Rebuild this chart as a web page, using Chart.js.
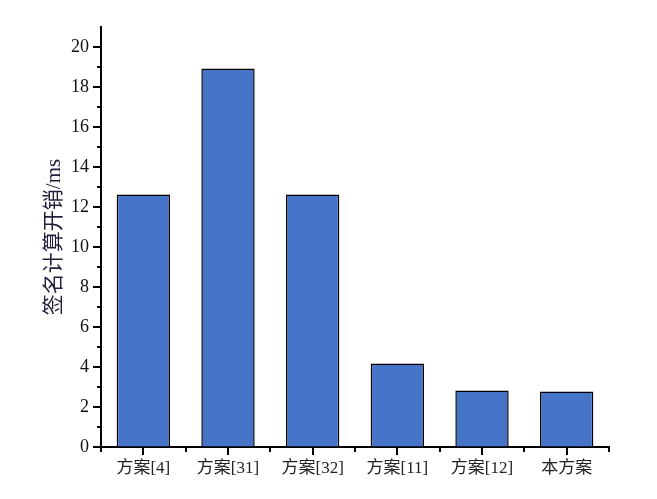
<!DOCTYPE html>
<html>
<head>
<meta charset="utf-8">
<script src="https://cdn.jsdelivr.net/npm/chart.js@4"></script>
<style>
    html, body { margin: 0; padding: 0; background: #fff; }
    #wrap { width: 657px; height: 499px; }
</style>
</head>
<body>
<div id="wrap"><canvas id="barChart" width="657" height="499"></canvas></div>
<script>
// Chart data
const categories = ['方案[4]', '方案[31]', '方案[32]', '方案[11]', '方案[12]', '本方案'];
const signCost = [12.63, 18.93, 12.63, 4.18, 2.83, 2.78];
const yTicks = [0, 2, 4, 6, 8, 10, 12, 14, 16, 18, 20];
const yMinorTicks = [1, 3, 5, 7, 9, 11, 13, 15, 17, 19];

const serif = '"Liberation Serif", "Noto Sans CJK SC", serif';

// Origin-style tick marks: long ticks on values, short ones in between
const tickMarks = {
    id: 'tickMarks',
    afterDraw(chart) {
        const ctx = chart.ctx;
        const xs = chart.scales.x;
        const ys = chart.scales.y;
        const area = chart.chartArea;
        ctx.save();
        ctx.strokeStyle = '#000';
        ctx.lineWidth = 2;
        ctx.beginPath();
        yTicks.forEach(v => {
            const y = Math.round(ys.getPixelForValue(v));
            ctx.moveTo(area.left - 8, y);
            ctx.lineTo(area.left, y);
        });
        yMinorTicks.forEach(v => {
            const y = Math.round(ys.getPixelForValue(v));
            ctx.moveTo(area.left - 4, y);
            ctx.lineTo(area.left, y);
        });
        categories.forEach((c, i) => {
            const x = Math.round(xs.getPixelForValue(i));
            ctx.moveTo(x, area.bottom);
            ctx.lineTo(x, area.bottom + 8);
        });
        for (let i = 0; i <= categories.length; i++) {
            const x = Math.round(xs.getPixelForValue(i - 0.5));
            ctx.moveTo(x, area.bottom);
            ctx.lineTo(x, area.bottom + 5);
        }
        ctx.stroke();
        ctx.restore();
    }
};

new Chart(document.getElementById('barChart').getContext('2d'), {
    type: 'bar',
    data: {
        labels: categories,
        datasets: [{
            data: signCost,
            backgroundColor: '#4674C8',
            borderColor: '#000',
            borderWidth: 1.5,
            categoryPercentage: 1,
            barPercentage: 0.63
        }]
    },
    options: {
        responsive: false,
        animation: false,
        layout: { padding: { top: 27, right: 48, left: 0, bottom: 0 } },
        plugins: {
            legend: { display: false },
            tooltip: { enabled: false }
        },
        scales: {
            x: {
                offset: true,
                afterFit(scale) { scale.height = 52; },
                grid: { display: true, drawOnChartArea: false, drawTicks: false },
                border: { display: true, color: '#000', width: 2 },
                ticks: {
                    color: '#222',
                    padding: 11,
                    maxRotation: 0,
                    font: { family: serif, size: 17 }
                }
            },
            y: {
                min: 0,
                max: 21,
                afterFit(scale) { scale.width = 101; },
                afterBuildTicks(scale) {
                    scale.ticks = yTicks.map(v => ({ value: v }));
                },
                grid: { display: true, drawOnChartArea: false, drawTicks: false },
                border: { display: true, color: '#000', width: 2 },
                ticks: {
                    color: '#111',
                    padding: 12,
                    font: { family: serif, size: 18 }
                },
                title: {
                    display: true,
                    text: '签名计算开销/ms',
                    color: '#1f1f3a',
                    padding: { top: 42, bottom: 0 },
                    font: { family: serif, size: 21 }
                }
            }
        }
    },
    plugins: [tickMarks]
});
</script>
</body>
</html>
